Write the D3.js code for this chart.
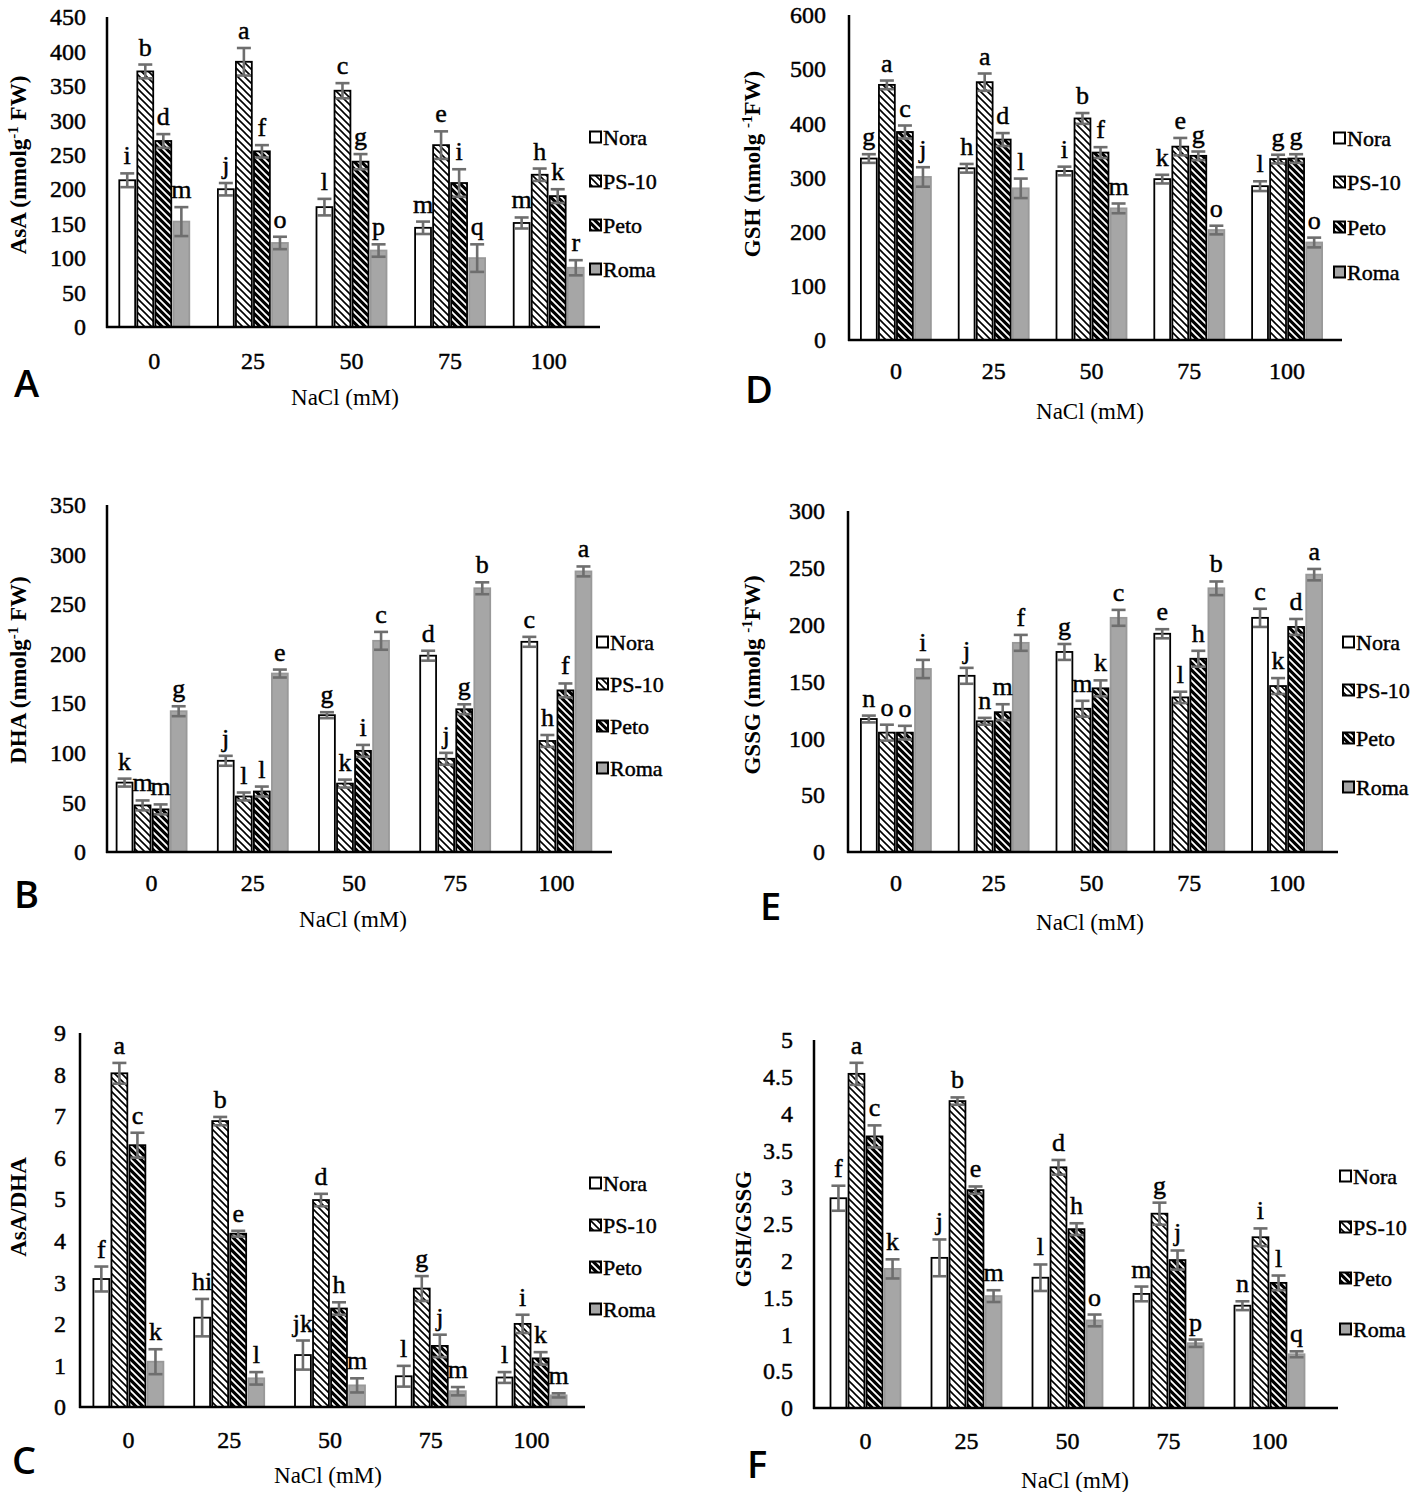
<!DOCTYPE html>
<html><head><meta charset="utf-8">
<script src="https://cdn.jsdelivr.net/npm/d3@7"></script>
<style>body{margin:0;background:#fff}</style>
</head><body>
<svg id="fig" width="1424" height="1492" xmlns="http://www.w3.org/2000/svg"></svg>
<script>
// ---------- data ----------
const categories = ["0", "25", "50", "75", "100"];
const cultivars = ["Nora", "PS-10", "Peto", "Roma"];

// A: AsA (nmol g-1 FW)  rows = Nora, PS-10, Peto, Roma
const asaValues = [[213, 200, 174, 144, 151], [371, 385, 343, 264, 221], [270, 255, 240, 209, 190], [153, 122, 111, 100, 86]];
const asaErrors = [[10, 9, 12, 9, 8], [10, 20, 11, 20, 9], [10, 9, 11, 20, 10], [21, 9, 9, 20, 11]];
const asaLetters = [["i", "j", "l", "m", "m"], ["b", "a", "c", "e", "h"], ["d", "f", "g", "i", "k"], ["m", "o", "p", "q", "r"]];
const asaTicks = [0, 50, 100, 150, 200, 250, 300, 350, 400, 450];

// D: GSH
const gshValues = [[335, 317, 312, 297, 284], [471, 476, 409, 357, 334], [384, 370, 346, 340, 335], [301, 280, 243, 203, 180]];
const gshErrors = [[8, 8, 8, 8, 9], [8, 16, 10, 16, 8], [12, 12, 10, 8, 8], [18, 18, 9, 8, 9]];
const gshLetters = [["g", "h", "i", "k", "l"], ["a", "a", "b", "e", "g"], ["c", "d", "f", "g", "g"], ["j", "l", "m", "o", "o"]];
const gshTicks = [0, 100, 200, 300, 400, 500, 600];

// B: DHA
const dhaValues = [[70, 92, 138, 198, 212], [47, 56, 69, 94, 112], [43, 61, 102, 144, 163], [142, 180, 213, 266, 283]];
const dhaErrors = [[4, 5, 3, 5, 5], [5, 4, 4, 6, 6], [5, 5, 6, 5, 7], [5, 4, 9, 6, 5]];
const dhaLetters = [["k", "j", "g", "d", "c"], ["m", "l", "k", "j", "h"], ["m", "l", "i", "g", "f"], ["g", "e", "c", "b", "a"]];
const dhaTicks = [0, 50, 100, 150, 200, 250, 300, 350];

// E: GSSG
const gssgValues = [[117, 155, 176, 192, 206], [105, 115, 126, 136, 146], [105, 123, 144, 170, 198], [161, 184, 206, 232, 244]];
const gssgErrors = [[3, 7, 7, 4, 8], [7, 3, 7, 5, 7], [6, 7, 7, 7, 7], [8, 7, 7, 6, 5]];
const gssgLetters = [["n", "j", "g", "e", "c"], ["o", "n", "m", "l", "k"], ["o", "m", "k", "h", "d"], ["i", "f", "c", "b", "a"]];
const gssgTicks = [0, 50, 100, 150, 200, 250, 300];

// C: AsA/DHA
const ratioAValues = [[3.08, 2.15, 1.25, 0.74, 0.71], [8.03, 6.88, 4.98, 2.85, 2.0], [6.30, 4.17, 2.37, 1.47, 1.17], [1.09, 0.69, 0.52, 0.38, 0.28]];
const ratioAErrors = [[0.3, 0.45, 0.35, 0.25, 0.13], [0.25, 0.1, 0.15, 0.3, 0.22], [0.3, 0.07, 0.15, 0.27, 0.15], [0.3, 0.15, 0.17, 0.1, 0.05]];
const ratioALetters = [["f", "hi", "jk", "l", "l"], ["a", "b", "d", "g", "i"], ["c", "e", "h", "j", "k"], ["k", "l", "m", "m", "m"]];
const ratioATicks = [0, 1, 2, 3, 4, 5, 6, 7, 8, 9];

// F: GSH/GSSG
const ratioGValues = [[2.85, 2.04, 1.77, 1.55, 1.39], [4.54, 4.17, 3.27, 2.64, 2.32], [3.69, 2.96, 2.43, 2.01, 1.70], [1.89, 1.52, 1.19, 0.88, 0.73]];
const ratioGErrors = [[0.17, 0.25, 0.18, 0.1, 0.06], [0.15, 0.05, 0.1, 0.15, 0.12], [0.15, 0.05, 0.08, 0.13, 0.1], [0.13, 0.08, 0.08, 0.05, 0.04]];
const ratioGLetters = [["f", "j", "l", "m", "n"], ["a", "b", "d", "g", "i"], ["c", "e", "h", "j", "l"], ["k", "m", "o", "p", "q"]];
const ratioGTicks = [0, 0.5, 1, 1.5, 2, 2.5, 3, 3.5, 4, 4.5, 5];

const xTitle = "NaCl (mM)";

// ---------- layout ----------
const panels = [
  { tag: "A", values: asaValues, errors: asaErrors, letters: asaLetters, ticks: asaTicks,
    ylab: ["AsA (nmolg", "-1", " FW)"],
    axisX: 107, xEnd: 600, yTop: 17, yBase: 327, band: [105, 598], tickGap: 21,
    catY: 369, legX: 590, legY: [137, 181, 225, 269], tagPos: [14, 397], titlePos: [345, 405], ylabPos: [18, 165] },
  { tag: "D", values: gshValues, errors: gshErrors, letters: gshLetters, ticks: gshTicks,
    ylab: ["GSH (nmolg ", "-1", "FW)"],
    axisX: 849, xEnd: 1342, yTop: 15, yBase: 340, band: [847, 1336], tickGap: 23,
    catY: 379, legX: 1334, legY: [138, 182, 227, 272], tagPos: [745, 403], titlePos: [1090, 419], ylabPos: [752, 164] },
  { tag: "B", values: dhaValues, errors: dhaErrors, letters: dhaLetters, ticks: dhaTicks,
    ylab: ["DHA (nmolg", "-1", " FW)"],
    axisX: 107, xEnd: 612, yTop: 505, yBase: 852, band: [101, 607], tickGap: 21,
    catY: 891, legX: 597, legY: [642, 684, 726, 768], tagPos: [14, 908], titlePos: [353, 927], ylabPos: [18, 670] },
  { tag: "E", values: gssgValues, errors: gssgErrors, letters: gssgLetters, ticks: gssgTicks,
    ylab: ["GSSG (nmolg ", "-1", "FW)"],
    axisX: 848, xEnd: 1338, yTop: 511, yBase: 852, band: [847, 1336], tickGap: 23,
    catY: 891, legX: 1343, legY: [642, 690, 738, 787], tagPos: [760, 920], titlePos: [1090, 930], ylabPos: [752, 675] },
  { tag: "C", values: ratioAValues, errors: ratioAErrors, letters: ratioALetters, ticks: ratioATicks,
    ylab: ["AsA/DHA"],
    axisX: 80, xEnd: 585, yTop: 1033, yBase: 1407, band: [78, 582], tickGap: 14,
    catY: 1448, legX: 590, legY: [1183, 1225, 1267, 1309], tagPos: [12, 1474], titlePos: [328, 1483], ylabPos: [18, 1207] },
  { tag: "F", values: ratioGValues, errors: ratioGErrors, letters: ratioGLetters, ticks: ratioGTicks,
    ylab: ["GSH/GSSG"],
    axisX: 814, xEnd: 1338, yTop: 1040, yBase: 1408, band: [815, 1320], tickGap: 21,
    catY: 1449, legX: 1340, legY: [1176, 1227, 1278, 1329], tagPos: [747, 1478], titlePos: [1075, 1488], ylabPos: [743, 1229] }
];

const SERIF = "'Liberation Serif', 'Times New Roman', serif";
const SANS = "'Open Sans', 'Noto Sans', sans-serif";
const errColor = "#6e6e6e";
const heavy = sel => sel.attr("stroke", "#000").attr("stroke-width", 0.45).attr("paint-order", "stroke");

const svg = d3.select("#fig");
svg.append("rect").attr("width", 1424).attr("height", 1492).attr("fill", "#fff");

// patterns
const defs = svg.append("defs");
const pPS = defs.append("pattern").attr("id", "pat-ps10").attr("patternUnits", "userSpaceOnUse")
  .attr("width", 7).attr("height", 7);
pPS.append("rect").attr("width", 7).attr("height", 7).attr("fill", "#fff");
pPS.append("path").attr("d", "M-1,-1 L8,8 M-1,6 L1,8 M6,-1 L8,1").attr("stroke", "#000").attr("stroke-width", 1.6);
const pPeto = defs.append("pattern").attr("id", "pat-peto").attr("patternUnits", "userSpaceOnUse")
  .attr("width", 7).attr("height", 7);
pPeto.append("rect").attr("width", 7).attr("height", 7).attr("fill", "#000");
pPeto.append("path").attr("d", "M-1,-1 L8,8 M-1,6 L1,8 M6,-1 L8,1").attr("stroke", "#fff").attr("stroke-width", 1.8);

const fills = { "Nora": "#ffffff", "PS-10": "url(#pat-ps10)", "Peto": "url(#pat-peto)", "Roma": "#a6a6a6" };
const strokes = { "Nora": "#000", "PS-10": "#000", "Peto": "#000", "Roma": "#999" };

panels.forEach(p => {
  const g = svg.append("g").attr("class", "panel-" + p.tag);
  const maxV = p.ticks[p.ticks.length - 1];
  const y = d3.scaleLinear().domain([0, maxV]).range([p.yBase, p.yTop]);
  const x0 = d3.scaleBand().domain(categories).range(p.band).padding(0);
  const x1 = d3.scaleBand().domain(cultivars).range([-35, 35]).paddingInner(0.12);

  // y tick labels via axis
  const yAxis = d3.axisLeft(y).tickValues(p.ticks).tickSize(0).tickPadding(p.tickGap).tickFormat(d => String(d));
  const ya = g.append("g").attr("transform", `translate(${p.axisX},0)`).call(yAxis);
  ya.select(".domain").remove();
  ya.selectAll("text").attr("font-family", SERIF).attr("font-size", 24).attr("fill", "#000").call(heavy);

  // x category labels via axis
  const xAxis = d3.axisBottom(x0).tickSize(0).tickPadding(0);
  const xa = g.append("g").attr("transform", `translate(0,${p.catY})`).call(xAxis);
  xa.select(".domain").remove();
  xa.selectAll("text").attr("dy", 0).attr("font-family", SERIF).attr("font-size", 24).attr("fill", "#000").call(heavy);

  // bars
  const rows = [];
  cultivars.forEach((c, si) => categories.forEach((cat, ci) => {
    rows.push({ c, cat, v: p.values[si][ci], e: p.errors[si][ci], l: p.letters[si][ci] });
  }));
  const cx = d => x0(d.cat) + x0.bandwidth() / 2 + x1(d.c);
  g.selectAll("rect.bar").data(rows).join("rect").attr("class", "bar")
    .attr("x", cx).attr("width", x1.bandwidth())
    .attr("y", d => y(d.v)).attr("height", d => y(0) - y(d.v))
    .attr("fill", d => fills[d.c]).attr("stroke", d => strokes[d.c]).attr("stroke-width", 1.8);

  // error bars
  const mid = d => cx(d) + x1.bandwidth() / 2;
  const eg = g.append("g").attr("stroke", errColor).attr("stroke-width", 2.6);
  eg.selectAll("line.v").data(rows).join("line").attr("class", "v")
    .attr("x1", mid).attr("x2", mid).attr("y1", d => y(d.v + d.e)).attr("y2", d => y(Math.max(0, d.v - d.e)));
  eg.selectAll("line.t").data(rows).join("line").attr("class", "t")
    .attr("x1", d => mid(d) - 7).attr("x2", d => mid(d) + 7).attr("y1", d => y(d.v + d.e)).attr("y2", d => y(d.v + d.e));
  eg.selectAll("line.b").data(rows).join("line").attr("class", "b")
    .attr("x1", d => mid(d) - 7).attr("x2", d => mid(d) + 7).attr("y1", d => y(Math.max(0, d.v - d.e))).attr("y2", d => y(Math.max(0, d.v - d.e)));

  // letters
  g.selectAll("text.lt").data(rows).join("text").attr("class", "lt")
    .attr("x", mid).attr("y", d => y(d.v + d.e) - 9)
    .attr("text-anchor", "middle").attr("font-family", SERIF).attr("font-size", 26).attr("fill", "#000")
    .text(d => d.l).call(heavy);

  // axis lines
  g.append("line").attr("x1", p.axisX).attr("x2", p.axisX).attr("y1", p.yTop).attr("y2", p.yBase + 1)
    .attr("stroke", "#000").attr("stroke-width", 2.5);
  g.append("line").attr("x1", p.axisX - 1).attr("x2", p.xEnd).attr("y1", p.yBase).attr("y2", p.yBase)
    .attr("stroke", "#000").attr("stroke-width", 2.5);

  // legend
  const lg = g.append("g");
  cultivars.forEach((c, i) => {
    const ly = p.legY[i];
    lg.append("rect").attr("x", p.legX).attr("y", ly - 5.5).attr("width", 11).attr("height", 11)
      .attr("fill", fills[c]).attr("stroke", "#000").attr("stroke-width", 2);
    lg.append("text").attr("x", p.legX + 13).attr("y", ly + 7.5).attr("font-family", SERIF)
      .attr("font-size", 22).attr("fill", "#000").text(c).call(heavy);
  });

  // x title
  g.append("text").attr("x", p.titlePos[0]).attr("y", p.titlePos[1]).attr("text-anchor", "middle")
    .attr("font-family", SERIF).attr("font-size", 23).attr("fill", "#000").text(xTitle);

  // y title
  const yt = g.append("text").attr("transform", `translate(${p.ylabPos[0]},${p.ylabPos[1]}) rotate(-90)`)
    .attr("text-anchor", "middle").attr("dy", "0.35em").attr("font-family", SERIF).attr("font-size", 23)
    .attr("font-weight", "bold").attr("fill", "#000");
  yt.append("tspan").text(p.ylab[0]);
  if (p.ylab.length > 1) {
    yt.append("tspan").attr("baseline-shift", "super").attr("font-size", 15).text(p.ylab[1]);
    yt.append("tspan").text(p.ylab[2]);
  }

  // panel tag
  g.append("text").attr("x", p.tagPos[0]).attr("y", p.tagPos[1]).attr("font-family", SANS)
    .attr("font-size", 38).attr("font-weight", 600).attr("fill", "#000").text(p.tag);
});
</script>
</body></html>
